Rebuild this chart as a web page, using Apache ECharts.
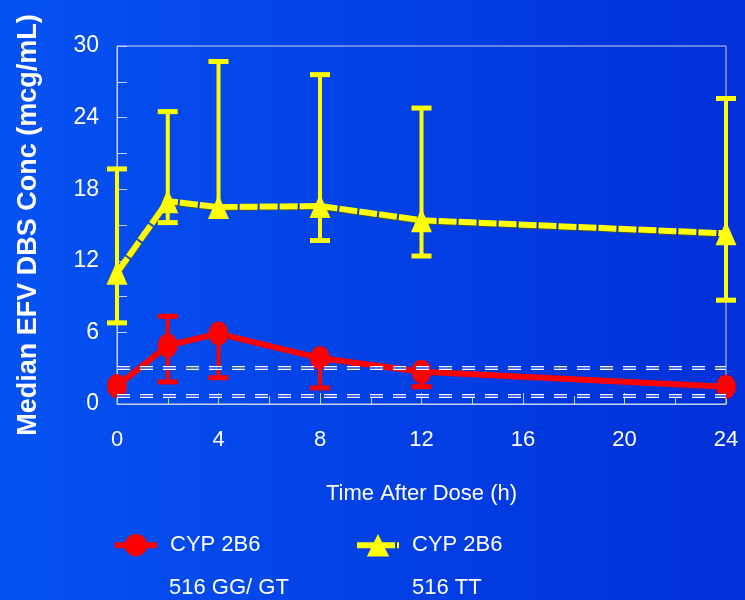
<!DOCTYPE html>
<html>
<head>
<meta charset="utf-8">
<script src="https://cdn.jsdelivr.net/npm/echarts@6/dist/echarts.min.js"></script>
<style>
  html, body { margin: 0; padding: 0; }
  #chart { width: 745px; height: 600px; }
</style>
</head>
<body>
<div id="chart"></div>
<script>
// sampling times (h)
const times = [0, 2, 4, 8, 12, 24];
// CYP 2B6 516 GG/GT — median and error bar ends
const ggMedian = [1.5, 4.9, 5.9, 3.85, 2.7, 1.45];
const ggLow = [null, 1.85, 2.2, 1.35, 1.45, null];
const ggHigh = [null, 7.35, null, null, null, null];
// CYP 2B6 516 TT
const ttMedian = [11.0, 17.0, 16.5, 16.6, 15.4, 14.3];
const ttLow = [6.8, 15.2, null, 13.7, 12.4, 8.7];
const ttHigh = [19.7, 24.5, 28.7, 27.6, 24.8, 25.6];
// dashed reference levels
const refLevels = [3.0, 0.7];
const seriesNames = ['CYP 2B6\n516 GG/ GT', 'CYP 2B6\n516 TT'];

const font = "'Liberation Sans', Arial, sans-serif";
const axisColor = '#c9d2f2';

function errorBars(means, lows, highs, color) {
  return {
    type: 'custom',
    z: 2,
    silent: true,
    data: times.map((t, i) => [t, means[i]]),
    encode: { x: 0, y: 1 },
    renderItem: (params, api) => {
      const i = params.dataIndex;
      const c = api.coord([times[i], means[i]]);
      const children = [];
      [lows[i], highs[i]].forEach(v => {
        if (v == null) return;
        const p = api.coord([times[i], v]);
        children.push({
          type: 'line',
          shape: { x1: c[0], y1: c[1], x2: p[0], y2: p[1] },
          style: { stroke: color, lineWidth: 4 }
        });
        children.push({
          type: 'line',
          shape: { x1: p[0] - 10, y1: p[1], x2: p[0] + 10, y2: p[1] },
          style: { stroke: color, lineWidth: 5 }
        });
      });
      return { type: 'group', children: children };
    }
  };
}

function refLine(color, width) {
  return {
    type: 'line',
    data: [],
    z: 1,
    silent: true,
    markLine: {
      silent: true,
      symbol: 'none',
      label: { show: false },
      lineStyle: { color: color, width: width, type: [13, 10] },
      data: refLevels.map(v => ({ yAxis: v }))
    }
  };
}

function legendAt(name, left) {
  return {
    data: [name],
    left: left, top: 534,
    padding: 0,
    itemWidth: 42, itemHeight: 28,
    lineStyle: { width: 6 },
    formatter: n => n.split('\n')[0],
    textStyle: { color: '#fff', fontFamily: font, fontSize: 22, padding: [0, 0, 0, 8] }
  };
}

const chart = echarts.init(document.getElementById('chart'));
chart.setOption({
  animation: false,
  backgroundColor: new echarts.graphic.LinearGradient(0, 0, 1, 0, [
    { offset: 0, color: '#0552f3' },
    { offset: 1, color: '#0030d8' }
  ]),
  grid: {
    left: 117, right: 19, top: 46, bottom: 196,
    show: true, borderColor: axisColor, borderWidth: 1
  },
  legend: [legendAt(seriesNames[0], 112), legendAt(seriesNames[1], 354)],
  graphic: [
    { type: 'text', left: 169, top: 577, style: { text: seriesNames[0].split('\n')[1], fill: '#fff', font: '22px ' + font } },
    { type: 'text', left: 412, top: 577, style: { text: seriesNames[1].split('\n')[1], fill: '#fff', font: '22px ' + font } }
  ],
  xAxis: {
    type: 'value',
    min: 0, max: 24, interval: 4,
    name: 'Time After Dose (h)',
    nameLocation: 'middle',
    nameGap: 79,
    nameTextStyle: { color: '#fff', fontFamily: font, fontSize: 22 },
    axisLine: { lineStyle: { color: axisColor } },
    axisTick: { inside: true, length: 11, lineStyle: { color: axisColor } },
    minorTick: { show: true, splitNumber: 2, length: 8, lineStyle: { color: axisColor } },
    splitLine: { show: false },
    axisLabel: { color: '#fff', fontFamily: font, fontSize: 22, margin: 25 }
  },
  yAxis: {
    type: 'value',
    min: 0, max: 30, interval: 6,
    name: 'Median EFV DBS Conc (mcg/mL)',
    nameLocation: 'middle',
    nameGap: 75,
    nameTextStyle: { color: '#fff', fontFamily: font, fontWeight: 'bold', fontSize: 27 },
    axisLine: { show: true, lineStyle: { color: axisColor } },
    axisTick: { show: true, inside: true, length: 10, lineStyle: { color: axisColor } },
    minorTick: { show: true, splitNumber: 2, length: 10, lineStyle: { color: axisColor } },
    splitLine: { show: false },
    axisLabel: { color: '#fff', fontFamily: font, fontSize: 23, margin: 18, padding: [7, 0, 0, 0] }
  },
  series: [
    refLine('#ffffff', 4),
    refLine('#1046e8', 1.5),
    errorBars(ggMedian, ggLow, ggHigh, '#ff0000'),
    errorBars(ttMedian, ttLow, ttHigh, '#ffff00'),
    {
      name: seriesNames[0],
      type: 'line',
      z: 4,
      data: times.map((t, i) => [t, ggMedian[i]]),
      symbol: 'circle',
      symbolSize: [20, 24],
      itemStyle: { color: '#ff0000' },
      lineStyle: { color: '#ff0000', width: 6 }
    },
    {
      name: seriesNames[1],
      type: 'line',
      z: 3,
      data: times.map((t, i) => [t, ttMedian[i]]),
      symbol: 'triangle',
      symbolSize: [21, 24],
      itemStyle: { color: '#ffff00' },
      lineStyle: {
        color: '#ffff00', width: 6, type: [18, 2],
        shadowColor: 'rgba(90,90,20,0.8)', shadowBlur: 0, shadowOffsetY: 1
      }
    }
  ]
});
</script>
</body>
</html>
